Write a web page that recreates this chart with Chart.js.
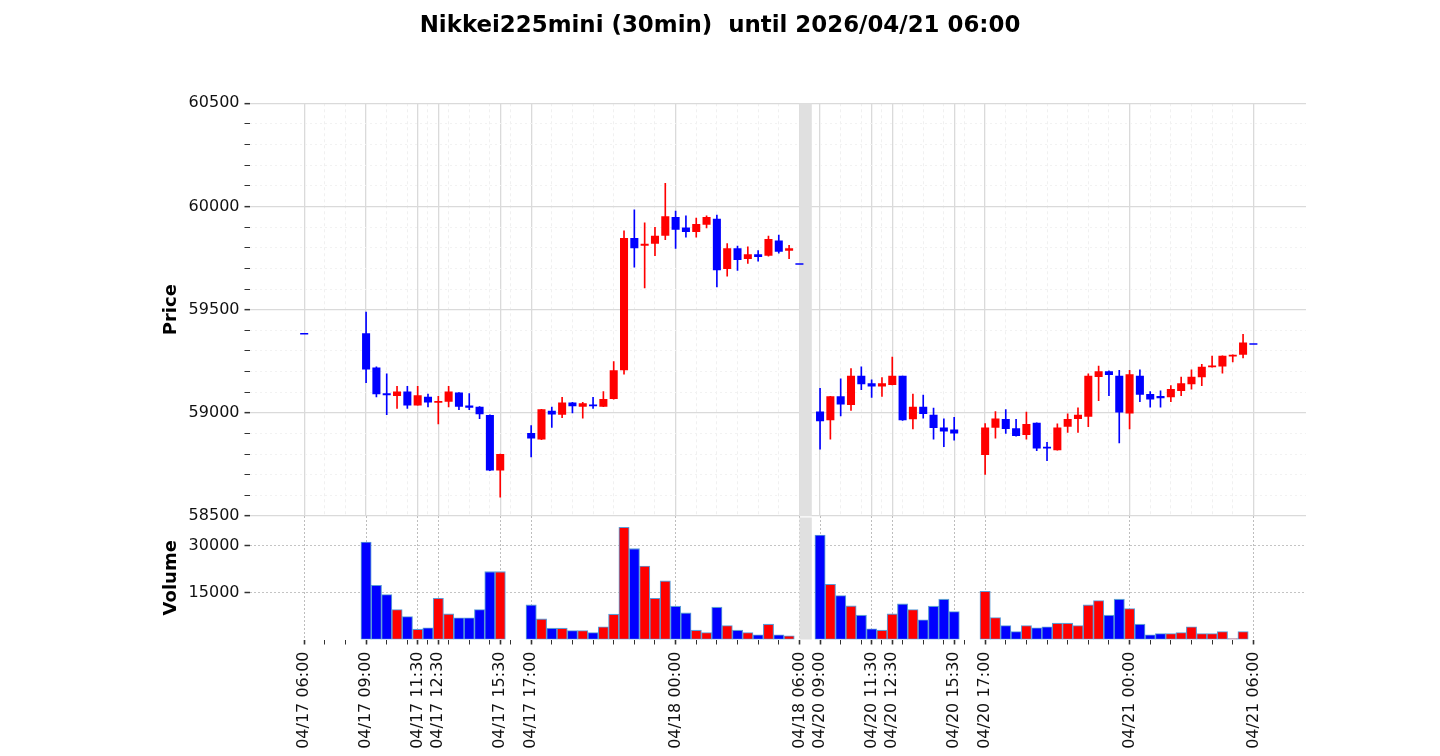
<!DOCTYPE html>
<html>
<head>
<meta charset="utf-8">
<script src="https://cdn.jsdelivr.net/npm/chart.js@4.4.1/dist/chart.umd.min.js"></script>
<style>
html,body{margin:0;padding:0;background:#fff;}
#wrap{position:relative;width:1440px;height:756px;overflow:hidden;background:#fff;}
#wrap canvas{position:absolute;left:0;top:0;}
</style>
</head>
<body>
<div id="wrap">
<canvas id="priceChart" width="1440" height="756"></canvas>
<canvas id="volumeChart" width="1440" height="756"></canvas>
</div>
<script>
// ---------------- DATA ----------------
const chartTitle = "Nikkei225mini (30min)  until 2026/04/21 06:00";

const times = [
  "04/17 06:00",
  "04/17 09:00","04/17 09:30","04/17 10:00","04/17 10:30","04/17 11:00","04/17 11:30","04/17 12:00",
  "04/17 12:30","04/17 13:00","04/17 13:30","04/17 14:00","04/17 14:30","04/17 15:00","04/17 15:30",
  "04/17 17:00","04/17 17:30","04/17 18:00","04/17 18:30","04/17 19:00","04/17 19:30","04/17 20:00",
  "04/17 20:30","04/17 21:00","04/17 21:30","04/17 22:00","04/17 22:30","04/17 23:00","04/17 23:30",
  "04/18 00:00","04/18 00:30","04/18 01:00","04/18 01:30","04/18 02:00","04/18 02:30","04/18 03:00",
  "04/18 03:30","04/18 04:00","04/18 04:30","04/18 05:00","04/18 05:30","04/18 06:00",
  "04/20 09:00","04/20 09:30","04/20 10:00","04/20 10:30","04/20 11:00","04/20 11:30","04/20 12:00",
  "04/20 12:30","04/20 13:00","04/20 13:30","04/20 14:00","04/20 14:30","04/20 15:00","04/20 15:30",
  "04/20 17:00","04/20 17:30","04/20 18:00","04/20 18:30","04/20 19:00","04/20 19:30","04/20 20:00",
  "04/20 20:30","04/20 21:00","04/20 21:30","04/20 22:00","04/20 22:30","04/20 23:00","04/20 23:30",
  "04/21 00:00","04/21 00:30","04/21 01:00","04/21 01:30","04/21 02:00","04/21 02:30","04/21 03:00",
  "04/21 03:30","04/21 04:00","04/21 04:30","04/21 05:00","04/21 05:30","04/21 06:00"
];

const opens = [
  59380,
  59385,59220,59095,59082,59103,59036,59078,59049,59054,59098,59036,59030,58990,58720,
  58902,58871,59010,58991,59050,59030,59040,59030,59067,59206,59847,59809,59819,59858,
  59949,59898,59876,59911,59940,59697,59798,59746,59769,59761,59835,59785,59718,
  59007,58964,59080,59038,59180,59143,59128,59135,59180,58969,59029,58991,58929,58919,
  58795,58928,58970,58925,58892,58952,58835,58819,58933,58970,58981,59174,59202,59180,
  58997,59180,59091,59082,59075,59106,59138,59172,59221,59224,59273,59282,59330
];
const highs = [
  59380,
  59490,59225,59190,59130,59130,59130,59092,59082,59130,59100,59095,59032,58992,58802,
  58940,59018,59030,59077,59052,59053,59077,59104,59250,59883,59985,59922,59900,60114,
  59979,59956,59945,59956,59960,59822,59809,59806,59788,59858,59863,59813,59718,
  59120,59082,59166,59216,59224,59162,59172,59272,59180,59093,59088,59025,58972,58980,
  58950,59008,59017,58970,59005,58953,58858,58948,58997,59026,59191,59228,59205,59207,
  59207,59210,59105,59108,59134,59175,59210,59236,59276,59278,59283,59382,59330
];
const lows = [
  59380,
  59145,59075,58990,59020,59020,59035,59027,58945,59027,59014,59014,58970,58718,58590,
  58785,58868,58928,58975,58998,58972,59020,59028,59065,59186,59704,59604,59760,59838,
  59795,59850,59850,59895,59608,59660,59689,59722,59733,59758,59772,59745,59718,
  58822,58871,58983,59010,59110,59073,59078,59133,58962,58920,58972,58871,58834,58866,
  58700,58875,58899,58885,58871,58815,58766,58818,58904,58904,58931,59057,59082,58853,
  58920,59053,59026,59026,59053,59082,59113,59130,59220,59191,59245,59264,59330
];
const closes = [
  59380,
  59210,59090,59085,59103,59035,59085,59050,59057,59103,59030,59024,58993,58720,58800,
  58875,59017,58992,59050,59032,59046,59032,59067,59206,59847,59798,59819,59858,59952,
  59887,59876,59915,59949,59691,59798,59741,59769,59755,59842,59780,59798,59718,
  58959,59080,59040,59180,59138,59128,59143,59180,58964,59029,58994,58927,58910,58900,
  58929,58973,58921,58888,58946,58827,58827,58929,58970,58991,59180,59202,59183,59001,
  59187,59087,59065,59071,59116,59143,59175,59223,59229,59276,59282,59341,59330
];
const volumes = [
  0,
  31180,17360,14360,9580,7340,3300,3730,13200,8200,6930,6930,9580,21700,21700,
  11070,6600,3630,3630,2880,2880,2240,4050,8100,35870,29040,23520,13200,18730,
  10650,8520,3000,2240,10340,4470,3000,2240,1500,4900,1500,1180,0,
  33420,17670,14040,10750,7780,3410,3000,8200,11390,9580,6290,10650,12890,8940,
  15440,7020,4470,2550,4470,3730,4050,5230,5230,4470,11070,12450,7780,12890,
  9900,4900,1500,1920,1920,2240,4050,1920,1920,2550,300,2550,0
];

const tickLabels = [
  "04/17 06:00","04/17 09:00","04/17 11:30","04/17 12:30","04/17 15:30","04/17 17:00",
  "04/18 00:00","04/18 06:00","04/20 09:00","04/20 11:30","04/20 12:30","04/20 15:30",
  "04/20 17:00","04/21 00:00","04/21 06:00"
];
const priceTicks = [58500,58600,58700,58800,58900,59000,59100,59200,59300,59400,59500,
                    59600,59700,59800,59900,60000,60100,60200,60300,60400,60500];
const priceLabelled = [58500,59000,59500,60000,60500];
const volumeTicks = [15000, 30000];

// ---------------- AXIS MAPPING ----------------
// 30-minute slots from 04/17 06:00; the weekend (04/18 06:00 -> 04/20 09:00) is compressed.
const WEEKEND_SKIP = 100;
function slotOf(t) {
  const [md, hm] = t.split(' ');
  const d = Number(md.split('/')[1]);
  const [h, m] = hm.split(':').map(Number);
  let s = ((d - 17) * 1440 + h * 60 + m - 360) / 30;
  if (d >= 20) s -= WEEKEND_SKIP;
  return s;
}
const X_MIN = -5.3, X_MAX = 97.1;
const majorSlots = tickLabels.map(slotOf);
const labelAt = new Map(tickLabels.map(t => [slotOf(t), t]));
const lastSlot = slotOf(times[times.length - 1]);
const hourly = [];
for (let s = 0; s <= lastSlot; s += 2) hourly.push(s);
const xTickValues = Array.from(new Set(hourly.concat(majorSlots))).sort((a, b) => a - b);
const isMajor = v => labelAt.has(v);
const breakFrom = slotOf("04/18 06:00");

const UP = '#ff0000', DOWN = '#0000ff';
const candleColors = closes.map((c, i) => c > opens[i] ? UP : DOWN);
const xs = times.map(slotOf);

Chart.defaults.font.family = "'DejaVu Sans', sans-serif";
Chart.defaults.color = '#111';

const breakBand = {
  id: 'breakBand',
  beforeDatasetsDraw(chart, args, o) {
    const sx = chart.scales.x, a = chart.chartArea, ctx = chart.ctx;
    const x0 = sx.getPixelForValue(o.from), x1 = sx.getPixelForValue(o.to);
    ctx.save();
    ctx.fillStyle = o.color;
    ctx.fillRect(x0, a.top + o.inset, x1 - x0, a.bottom - a.top - o.inset);
    ctx.restore();
  }
};

function xScale(isPrice) {
  return {
    type: 'linear', min: X_MIN, max: X_MAX, offset: false,
    afterBuildTicks: s => { s.ticks = xTickValues.map(v => ({ value: v })); },
    afterFit: s => { s.height = isPrice ? 0 : 116.5; },
    ticks: {
      display: !isPrice, autoSkip: false, minRotation: 90, maxRotation: 90,
      padding: 7, font: { size: 16 }, color: '#111',
      callback: v => labelAt.has(v) ? labelAt.get(v) : ''
    },
    grid: {
      offset: false,
      drawTicks: !isPrice,
      tickLength: 5,
      tickColor: '#333',
      tickWidth: c => (c.tick && isMajor(c.tick.value)) ? 1.6 : 1,
      tickBorderDash: [],
      color: c => {
        if (!c.tick) return 'rgba(0,0,0,0)';
        if (isPrice) return isMajor(c.tick.value) ? '#dadada' : '#f0f0f0';
        return isMajor(c.tick.value) ? '#bdbdbd' : 'rgba(0,0,0,0)';
      },
      lineWidth: c => (c.tick && isMajor(c.tick.value)) ? (isPrice ? 1.3 : 1) : 1
    },
    border: {
      display: false,
      dash: c => {
        if (!c.tick) return [];
        if (isPrice) return isMajor(c.tick.value) ? [] : [3, 3];
        return [2, 2];
      }
    }
  };
}

// ---------------- PRICE PANEL ----------------
new Chart(document.getElementById('priceChart'), {
  type: 'bar',
  data: {
    datasets: [
      {
        label: 'body',
        data: xs.map((x, i) => ({ x, y: [Math.min(opens[i], closes[i]), Math.max(opens[i], closes[i])] })),
        backgroundColor: candleColors,
        barPercentage: 0.78, categoryPercentage: 1, grouped: false, minBarLength: 1.5,
        xAxisID: 'x', yAxisID: 'y'
      },
      {
        label: 'wick',
        data: xs.map((x, i) => ({ x, y: [lows[i], highs[i]] })),
        backgroundColor: candleColors,
        barPercentage: 0.16, categoryPercentage: 1, grouped: false,
        xAxisID: 'x', yAxisID: 'y'
      }
    ]
  },
  options: {
    responsive: false, animation: false, events: [],
    layout: { padding: { top: 0, left: 0, right: 0, bottom: 240 } },
    plugins: {
      legend: { display: false }, tooltip: { enabled: false },
      title: {
        display: true, text: chartTitle, color: '#000',
        font: { size: 22.9, weight: 'bold' }, padding: { top: 12.5, bottom: 63.3 }
      },
      breakBand: { from: breakFrom, to: breakFrom + 1.2, color: '#e0e0e0', inset: 0 }
    },
    scales: {
      x: xScale(true),
      y: {
        type: 'linear', position: 'left', min: 58500, max: 60500,
        afterBuildTicks: s => { s.ticks = priceTicks.map(v => ({ value: v })); },
        afterFit: s => { s.width = 249.5; },
        ticks: {
          autoSkip: false, padding: 5, font: { size: 16 }, color: '#111',
          callback: v => priceLabelled.includes(v) ? String(v) : ''
        },
        grid: {
          tickLength: 5, tickColor: '#333', tickBorderDash: [],
          tickWidth: c => (c.tick && priceLabelled.includes(c.tick.value)) ? 1.5 : 1,
          color: c => !c.tick ? 'rgba(0,0,0,0)' : (priceLabelled.includes(c.tick.value) ? '#dadada' : '#f2f2f2'),
          lineWidth: c => (c.tick && priceLabelled.includes(c.tick.value)) ? 1.3 : 1
        },
        border: { display: false, dash: c => (c.tick && !priceLabelled.includes(c.tick.value)) ? [2, 3] : [] },
        title: { display: true, text: 'Price', color: '#000', font: { size: 18, weight: 'bold' }, padding: { top: 161, bottom: 0 } }
      },
      yr: {
        type: 'linear', position: 'right', display: true,
        ticks: { display: false }, grid: { display: false }, border: { display: false },
        afterFit: s => { s.width = 134; }
      }
    }
  },
  plugins: [breakBand]
});

// ---------------- VOLUME PANEL ----------------
const VOL_MAX = 39500;
new Chart(document.getElementById('volumeChart'), {
  type: 'bar',
  data: {
    datasets: [{
      label: 'Volume',
      data: xs.map((x, i) => ({ x, y: volumes[i] > 0 ? volumes[i] : null })),
      backgroundColor: candleColors,
      borderColor: '#5b9bd5', borderWidth: 1.1, borderSkipped: false,
      barPercentage: 1, categoryPercentage: 1, grouped: false,
      xAxisID: 'x', yAxisID: 'y'
    }]
  },
  options: {
    responsive: false, animation: false, events: [],
    layout: { padding: { top: 516, left: 0, right: 134, bottom: 0 } },
    plugins: {
      legend: { display: false }, tooltip: { enabled: false },
      breakBand: { from: breakFrom, to: breakFrom + 1.2, color: '#e0e0e0', inset: 1.5 }
    },
    scales: {
      x: xScale(false),
      y: {
        type: 'linear', position: 'left', min: 0, max: VOL_MAX,
        afterBuildTicks: s => { s.ticks = volumeTicks.map(v => ({ value: v })); },
        afterFit: s => { s.width = 249.5; },
        ticks: { autoSkip: false, padding: 5, font: { size: 16 }, color: '#111', callback: v => String(v) },
        grid: { tickLength: 5, tickColor: '#333', tickWidth: 1.5, tickBorderDash: [], color: '#c4c4c4', lineWidth: 1 },
        border: { display: false, dash: c => c.tick ? [2, 2] : [] },
        title: { display: true, text: 'Volume', color: '#000', font: { size: 18, weight: 'bold' }, padding: { top: 161, bottom: 0 } }
      }
    }
  },
  plugins: [breakBand]
});
</script>
</body>
</html>
